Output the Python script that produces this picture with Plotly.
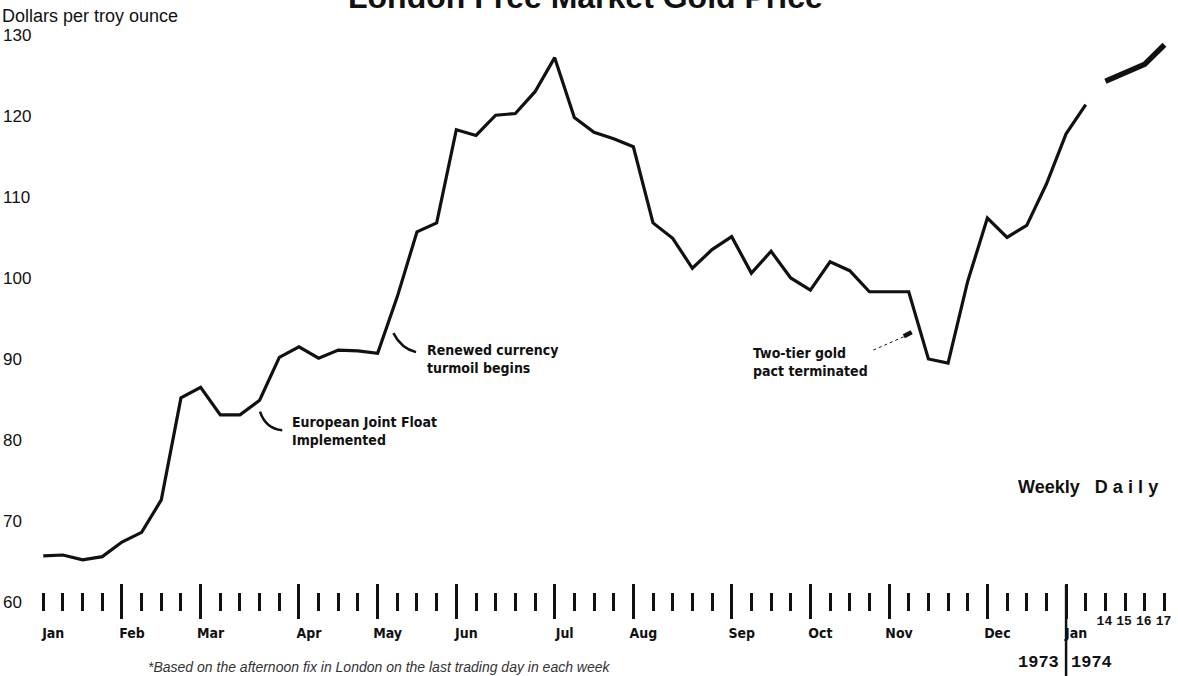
import plotly.graph_objects as go

W, H = 1178, 676

# ---------------- data ----------------
# weekly (Friday) afternoon fix, week 0 = 5 Jan 1973 ... week 53 = 11 Jan 1974
week_index = list(range(54))
weekly_price = [65.7, 65.8, 65.2, 65.6, 67.4, 68.6, 72.6, 85.2, 86.5, 83.1,
                83.1, 84.9, 90.2, 91.5, 90.1, 91.1, 91.0, 90.7, 97.7, 105.7,
                106.8, 118.3, 117.6, 120.1, 120.3, 123.0, 127.2, 119.8, 118.0, 117.2,
                116.2, 106.8, 104.9, 101.2, 103.5, 105.1, 100.6, 103.3, 100.0, 98.5,
                102.0, 100.9, 98.3, 98.3, 98.3, 90.0, 89.5, 99.6, 107.4, 105.0,
                106.5, 111.6, 117.8, 121.4]
# daily fix, 14-17 Jan 1974
daily_index = [54, 55, 56, 57]
daily_price = [124.3, 125.3, 126.4, 128.8]
daily_labels = ["14", "15", "16", "17"]

month_labels = ["Jan", "Feb", "Mar", "Apr", "May", "Jun", "Jul",
                "Aug", "Sep", "Oct", "Nov", "Dec", "Jan"]
month_start_week = [0, 4, 8, 13, 17, 21, 26, 30, 35, 39, 43, 48, 52]
y_ticks = [60, 70, 80, 90, 100, 110, 120, 130]

# ---------------- layout helpers ----------------
X_RANGE = [-2.2, 57.69]
Y_RANGE = [50.86, 134.32]
AXIS_Y1 = (H - 601) / H          # tick row: lower half of the ticks
AXIS_Y2 = (H - 604) / H          # tick row: upper half (overlapping)

major_ticks = month_start_week[1:]
minor_ticks = [w for w in week_index + daily_index if w not in major_ticks]

INK = "#111111"
NARROW = "Liberation Sans Narrow, DejaVu Sans Condensed, Arial Narrow, sans-serif"
SANS = "Liberation Sans, Arial, Helvetica, sans-serif"
MONO = "Liberation Mono, DejaVu Sans Mono, Courier New, monospace"

fig = go.Figure()
fig.add_trace(go.Scatter(x=week_index, y=weekly_price, mode="lines",
                         line=dict(color=INK, width=3.2), showlegend=False,
                         hoverinfo="x+y"))
fig.add_trace(go.Scatter(x=daily_index, y=daily_price, mode="lines",
                         line=dict(color=INK, width=5.5), showlegend=False,
                         hoverinfo="x+y"))
for ax in ["x2", "x3", "x4"]:
    fig.add_trace(go.Scatter(x=[None], y=[None], xaxis=ax, yaxis="y",
                             showlegend=False, hoverinfo="skip"))

common = dict(range=X_RANGE, showline=False, showgrid=False, zeroline=False,
              anchor="free", fixedrange=True)

fig.update_layout(
    width=W, height=H,
    margin=dict(l=0, r=0, t=0, b=0),
    paper_bgcolor="white", plot_bgcolor="white",
    xaxis=dict(**common, position=AXIS_Y1, ticks="outside", ticklen=17,
               tickwidth=2.5, tickcolor=INK, tickmode="array",
               tickvals=major_ticks, showticklabels=False,
               minor=dict(tickmode="array", tickvals=minor_ticks,
                          ticks="outside", ticklen=9, tickwidth=2.5,
                          tickcolor=INK)),
    xaxis2=dict(**common, position=AXIS_Y2, overlaying="x", ticks="inside",
                ticklen=20, tickwidth=2.5, tickcolor=INK, tickmode="array",
                tickvals=major_ticks, showticklabels=False,
                minor=dict(tickmode="array", tickvals=minor_ticks,
                           ticks="inside", ticklen=11, tickwidth=2.5,
                           tickcolor=INK)),
    xaxis3=dict(**common, position=AXIS_Y1, overlaying="x", ticks="",
                tickmode="array", tickvals=month_start_week,
                ticktext=month_labels, tickangle=0, ticklabelshift=10,
                ticklabelstandoff=22,
                tickfont=dict(family=NARROW, size=14, color=INK,
                              weight="bold")),
    xaxis4=dict(**common, position=AXIS_Y1, overlaying="x", ticks="",
                tickmode="array", tickvals=daily_index, ticktext=daily_labels,
                tickangle=0, ticklabelshift=-1, ticklabelstandoff=10,
                tickfont=dict(family=MONO, size=13, color=INK,
                              weight="bold")),
    yaxis=dict(range=Y_RANGE, domain=[0, 1], showline=False, showgrid=False,
               zeroline=False, ticks="", tickmode="array", tickvals=y_ticks,
               ticklabelposition="inside", fixedrange=True,
               tickfont=dict(family=SANS, size=17, color=INK)),
)

# divider between 1973 and 1974
fig.add_shape(type="line", xref="x", yref="paper", x0=52, x1=52,
              y0=0, y1=(H - 585) / H, line=dict(color=INK, width=2.5))

# leader lines for the event notes (week units, dollars)
def qpath(p0, c, p1):
    return f"M {p0[0]},{p0[1]} Q {c[0]},{c[1]} {p1[0]},{p1[1]}"

fig.add_shape(type="path", xref="x", yref="y",
              path=qpath((11.02, 83.5), (11.3, 81.4), (12.15, 81.2)),
              line=dict(color=INK, width=2.5))
fig.add_shape(type="path", xref="x", yref="y",
              path=qpath((17.8, 93.2), (18.2, 91.3), (18.95, 90.85)),
              line=dict(color=INK, width=2.5))
fig.add_shape(type="line", xref="x", yref="y", x0=42.2, y0=91.1,
              x1=43.8, y1=92.8, line=dict(color=INK, width=1, dash="dot"))
fig.add_shape(type="line", xref="x", yref="y", x0=43.75, y0=92.8,
              x1=44.15, y1=93.3, line=dict(color=INK, width=4.5))

note_font = dict(family=NARROW, size=14, color=INK, weight="bold")
notes = [
    (12.55, 83.4, "European Joint Float<br>Implemented"),
    (19.4, 92.3, "Renewed currency<br>turmoil begins"),
    (36.0, 92.0, "Two-tier gold<br>pact terminated"),
]
for nx, ny, txt in notes:
    fig.add_annotation(x=nx, y=ny, xref="x", yref="y", text=txt,
                       showarrow=False, xanchor="left", yanchor="top",
                       align="left", font=note_font)

SP = "\u2009\u200a"   # letter spacing for the widely set "Daily"
fig.add_annotation(x=49.45, y=74.2, xref="x", yref="y",
                   text="Weekly   " + SP.join("Daily"), showarrow=False,
                   xanchor="left", yanchor="middle",
                   font=dict(family=SANS, size=18, color=INK, weight="bold"))

# title (cut at the top edge in the source) and axis unit
fig.add_annotation(x=0.497, y=1.004, xref="paper", yref="paper",
                   text="London Free Market Gold Price", showarrow=False,
                   xanchor="center", yanchor="middle",
                   font=dict(family=SANS, size=32, color=INK, weight="bold"))
fig.add_annotation(x=0.0, y=1 - 4 / H, xref="paper", yref="paper",
                   text="Dollars per troy ounce", showarrow=False,
                   xanchor="left", yanchor="top",
                   font=dict(family=SANS, size=18, color=INK))

# year labels
fig.add_annotation(x=51.75, y=(H - 662) / H, xref="x", yref="paper",
                   text="1973", showarrow=False, xanchor="right",
                   yanchor="middle",
                   font=dict(family=MONO, size=17, color=INK, weight="bold"))
fig.add_annotation(x=52.15, y=(H - 662) / H, xref="x", yref="paper",
                   text="1974", showarrow=False, xanchor="left",
                   yanchor="middle",
                   font=dict(family=MONO, size=17, color=INK, weight="bold"))

# footnote
fig.add_annotation(x=146 / W, y=(H - 667) / H, xref="paper", yref="paper",
                   text="<i>*Based on the afternoon fix in London on the last trading day in each week</i>",
                   showarrow=False, xanchor="left", yanchor="middle",
                   font=dict(family=SANS, size=14, color="#333333"))

fig.write_html("out.html",
               config={"displayModeBar": False},
               post_script="document.body.style.margin='0';"
                           "document.documentElement.style.overflow='hidden';")
